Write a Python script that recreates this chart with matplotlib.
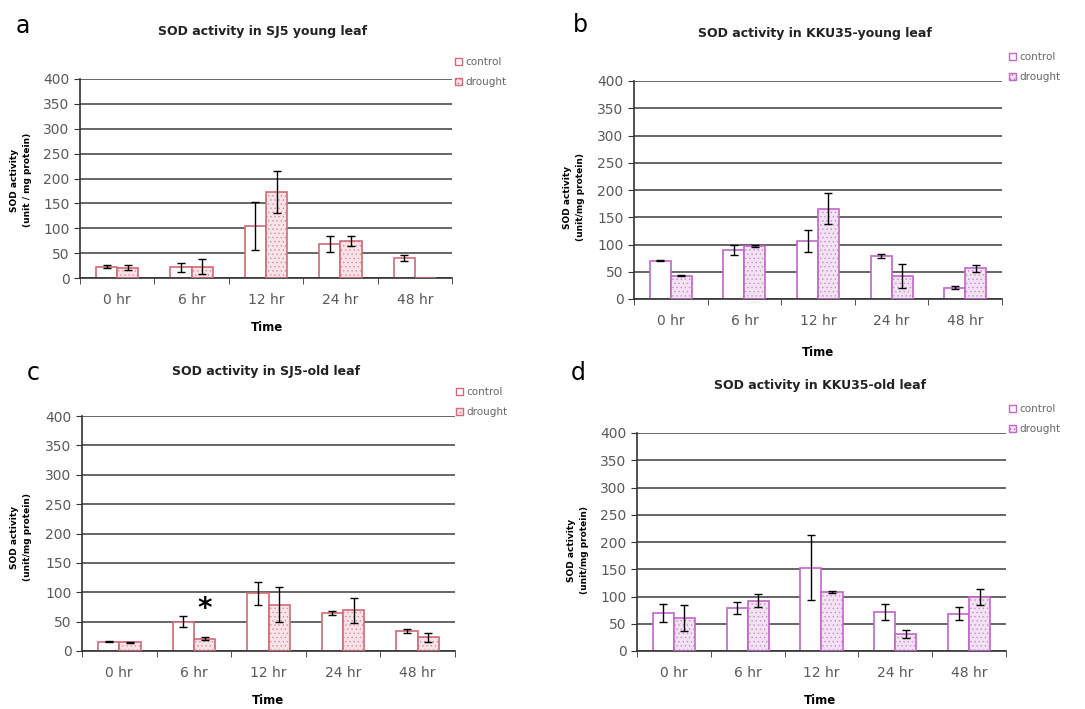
import numpy as np
import matplotlib
matplotlib.use("Agg")
from matplotlib import pyplot as plt
from matplotlib.patches import Patch

# ---- data ----
times = ["0 hr", "6 hr", "12 hr", "24 hr", "48 hr"]

sj5_young_ctrl = [23, 22, 104, 69, 41]
sj5_young_ctrl_err = [3, 9, 48, 16, 6]
sj5_young_drought = [21, 23, 173, 74, 0]
sj5_young_drought_err = [5, 15, 42, 10, 0]

kku_young_ctrl = [70, 90, 106, 79, 21]
kku_young_ctrl_err = [1, 9, 20, 4, 3]
kku_young_drought = [43, 98, 166, 42, 56]
kku_young_drought_err = [1, 2, 28, 22, 6]

sj5_old_ctrl = [16, 50, 98, 65, 34]
sj5_old_ctrl_err = [1, 9, 19, 3, 3]
sj5_old_drought = [15, 21, 79, 69, 23]
sj5_old_drought_err = [1, 2, 30, 22, 7]

kku_old_ctrl = [70, 78, 153, 71, 68]
kku_old_ctrl_err = [16, 11, 59, 15, 12]
kku_old_drought = [60, 92, 109, 31, 99]
kku_old_drought_err = [24, 12, 2, 8, 15]

W, H = 1085, 709
fig = plt.figure(figsize=(W / 100, H / 100), dpi=100)
plt.rcParams['hatch.linewidth'] = 0.5


def fx(px):
    return px / W


def fy(py):
    return 1 - py / H


def panel(box, letter, title, ylabel, ctrl, ctrl_err, dr, dr_err,
          edge, fill, dots, pos):
    left, top, right, bottom = box
    ax = fig.add_axes([fx(left), fy(bottom), fx(right - left), (bottom - top) / H])
    x = np.arange(len(times))
    w = 0.285
    ax.bar(x - w / 2, ctrl, w, color="white", edgecolor=edge, linewidth=1.2, zorder=2)
    ax.bar(x + w / 2, dr, w, color=fill, edgecolor=dots, linewidth=0, hatch="....", zorder=2)
    ax.bar(x + w / 2, dr, w, fill=False, edgecolor=edge, linewidth=1.2, zorder=3)
    ekw = dict(fmt="none", ecolor="black", elinewidth=1, capsize=3, capthick=1, zorder=4)
    ax.errorbar(x - w / 2, ctrl, yerr=ctrl_err, **ekw)
    # skip error bars where there is no drought bar (48 hr in panel a)
    mask = np.array(dr) > 0
    ax.errorbar((x + w / 2)[mask], np.array(dr)[mask], yerr=np.array(dr_err)[mask], **ekw)

    ax.set_xlim(-0.5, len(times) - 0.5)
    ax.set_ylim(0, 400)
    ax.set_yticks(np.arange(0, 401, 50))
    ax.set_xticks(x)
    ax.set_xticklabels(times)
    ax.set_xticks(np.arange(-0.5, len(times), 1), minor=True)
    ax.tick_params(axis="x", which="major", length=0, pad=11, labelsize=10, labelcolor="#5a5a5a")
    ax.tick_params(axis="x", which="minor", length=4, direction="out", color="#333333")
    ax.tick_params(axis="y", length=4, direction="out", labelsize=10, labelcolor="#5a5a5a",
                   color="#333333")
    ax.grid(axis="y", color="#4d4d4d", linewidth=1.2)
    ax.set_axisbelow(True)
    for s in ["top", "right"]:
        ax.spines[s].set_visible(False)
    for s in ["left", "bottom"]:
        ax.spines[s].set_color("#333333")
        ax.spines[s].set_linewidth(1.2)

    handles = [Patch(facecolor="white", edgecolor=edge, linewidth=1),
               Patch(facecolor=fill, edgecolor=edge, linewidth=1, hatch="....")]
    ax.legend(handles, ["control", "drought"], loc="upper left",
              bbox_to_anchor=(fx(pos["leg"][0]), fy(pos["leg"][1])),
              bbox_transform=fig.transFigure, frameon=False, fontsize=7.5,
              labelcolor="#666666", handlelength=0.7, handleheight=0.7,
              handletextpad=0.3, borderpad=0, borderaxespad=0, labelspacing=1.0)

    fig.text(fx(pos["letter"][0]), fy(pos["letter"][1]), letter, fontsize=17,
             ha="center", va="center")
    fig.text(fx(pos["title"][0]), fy(pos["title"][1]), title, fontsize=9,
             fontweight="bold", ha="center", va="center", color="#222222")
    fig.text(fx(pos["ylab"][0]), fy(pos["ylab"][1]), ylabel, fontsize=6.5,
             fontweight="bold", rotation=90, ha="center", va="center",
             linespacing=1.5, multialignment="center")
    fig.text(fx(pos["time"][0]), fy(pos["time"][1]), "Time", fontsize=8.5,
             fontweight="bold", ha="center", va="center")
    return ax


red_edge, red_fill, red_dots = "#d26a78", "#f8e4e8", "#d98f9c"
pur_edge, pur_fill, pur_dots = "#c266c9", "#f2e2f2", "#c98fcc"

panel((80, 79, 452, 278), "a", "SOD activity in SJ5 young leaf",
      "SOD activity\n(unit / mg protein)",
      sj5_young_ctrl, sj5_young_ctrl_err, sj5_young_drought, sj5_young_drought_err,
      red_edge, red_fill, red_dots,
      dict(leg=(455, 57), letter=(23, 26), title=(263, 32), ylab=(21, 180), time=(267, 328)))

panel((634, 81, 1002, 299), "b", "SOD activity in KKU35-young leaf",
      "SOD activity\n(unit/mg protein)",
      kku_young_ctrl, kku_young_ctrl_err, kku_young_drought, kku_young_drought_err,
      pur_edge, pur_fill, pur_dots,
      dict(leg=(1009, 52), letter=(580, 25), title=(815, 33), ylab=(574, 197), time=(818, 352)))

axc = panel((82, 416, 455, 651), "c", "SOD activity in SJ5-old leaf",
            "SOD activity\n(unit/mg protein)",
            sj5_old_ctrl, sj5_old_ctrl_err, sj5_old_drought, sj5_old_drought_err,
            red_edge, red_fill, red_dots,
            dict(leg=(456, 387), letter=(33, 373), title=(266, 371), ylab=(21, 537), time=(268, 700)))
# significance mark over 6 hr drought
axc.text(1 + 0.285 / 2, 72, "*", fontsize=20, fontweight="bold", ha="center", va="center")

panel((637, 433, 1006, 651), "d", "SOD activity in KKU35-old leaf",
      "SOD activity\n(unit/mg protein)",
      kku_old_ctrl, kku_old_ctrl_err, kku_old_drought, kku_old_drought_err,
      pur_edge, pur_fill, pur_dots,
      dict(leg=(1009, 404), letter=(578, 373), title=(820, 385), ylab=(578, 550), time=(820, 700)))

plt.savefig("out.png", dpi=100)
